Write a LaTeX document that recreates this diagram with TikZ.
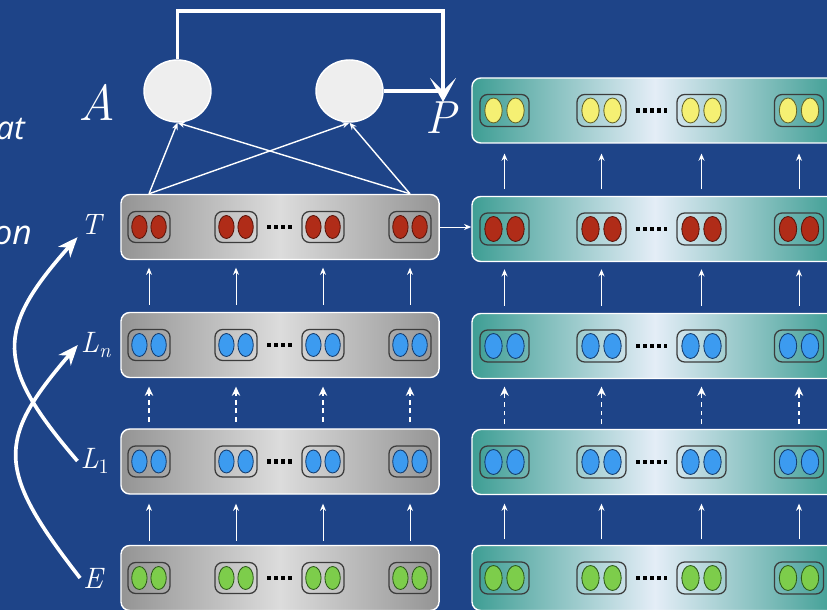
\documentclass[tikz,border=0pt]{standalone}
\usepackage{fontspec}
\usepackage{tikz}
\usepackage{xcolor}
\usetikzlibrary{arrows.meta,positioning,shapes.geometric}
\newfontfamily\slidefont{Open Sans}
\definecolor{slidebg}{RGB}{30,68,136}
\definecolor{boxedge}{RGB}{148,148,148}
\definecolor{boxmid}{RGB}{220,220,220}
\definecolor{tealedge}{RGB}{62,158,148}
\definecolor{tealmid}{RGB}{228,237,247}
\definecolor{podline}{RGB}{60,60,60}
\definecolor{cellfill}{RGB}{238,238,238}
\definecolor{unitred}{RGB}{176,44,24}
\definecolor{unitredline}{RGB}{90,20,10}
\definecolor{unitblue}{RGB}{60,155,240}
\definecolor{unitblueline}{RGB}{20,60,110}
\definecolor{unitgreen}{RGB}{125,205,75}
\definecolor{unitgreenline}{RGB}{45,90,25}
\definecolor{unityellow}{RGB}{245,240,115}
\definecolor{unityellowline}{RGB}{100,100,40}

\begin{document}
\begin{tikzpicture}[x=0.025cm,y=0.025cm,
  graybox/.style={draw=white,line width=1pt,rounded corners=0.22cm,minimum width=7.95cm,minimum height=1.625cm,left color=boxedge,right color=boxedge,middle color=boxmid},
  tealbox/.style={draw=white,line width=1pt,rounded corners=0.22cm,minimum width=9.15cm,minimum height=1.625cm,left color=tealedge,right color=tealedge,middle color=tealmid},
  pod/.style={draw=podline,line width=0.9pt,rounded corners=0.19cm,minimum width=1.05cm,minimum height=0.775cm,inner sep=0pt},
  bigpod/.style={pod,minimum width=1.225cm,minimum height=0.8cm},
  unit/.style={ellipse,line width=0.6pt,inner sep=0pt,minimum width=0.385cm,minimum height=0.575cm},
  bigunit/.style={unit,minimum width=0.435cm,minimum height=0.625cm},
  redunit/.style={fill=unitred,draw=unitredline},
  blueunit/.style={fill=unitblue,draw=unitblueline},
  greenunit/.style={fill=unitgreen,draw=unitgreenline},
  yellowunit/.style={fill=unityellow,draw=unityellowline},
  cell/.style={ellipse,draw=white,line width=1pt,fill=cellfill,minimum width=1.675cm,minimum height=1.55cm,inner sep=0pt},
  lab/.style={text=white,inner sep=2pt},
  uparrow/.style={-{Stealth[length=1.8mm,width=1.5mm]},draw=white,line width=0.7pt},
  dasharrow/.style={-{Stealth[length=2.3mm,width=2.1mm]},draw=white,line width=1.2pt,dash pattern=on 3.5pt off 2.8pt},
  feedback/.style={-{Stealth[length=6mm,width=6.5mm,inset=3.2mm]},draw=white,line width=2.8pt},
  bendarrow/.style={-{Stealth[length=5mm,width=4mm,inset=1.5mm]},draw=white,line width=2.6pt},
  dotrow/.style={draw=black,line width=3.5pt,dash pattern=on 2.8pt off 2.1pt,shorten <=7pt,shorten >=7pt}
]
\fill[slidebg] (0,0) rectangle (827,610);
\useasboundingbox (0,0) rectangle (827,610);

% left column
\foreach \row/\y/\col in {t/383/redunit,ln/265/blueunit,lone/148.5/blueunit,e/32/greenunit} {
  \node[graybox] (\row box) at (280,\y) {};
  \foreach \i/\x in {1/149,2/236,3/323,4/410} {
    \node[pod] (\row\i) at (\x,\y) {};
    \node[unit,\col] (\row\i a) at ([xshift=-0.24cm]\row\i.center) {};
    \node[unit,\col] (\row\i b) at ([xshift=0.24cm]\row\i.center) {};
  }
  \draw[dotrow] (\row2) -- (\row3);
}

% right column
\foreach \row/\y/\col in {pr/499.5/yellowunit,tr/381/redunit,lnr/264/blueunit,loner/148/blueunit,er/32/greenunit} {
  \node[tealbox] (\row box) at (655,\y) {};
  \foreach \i/\x in {1/504.5,2/601.5,3/701.5,4/799} {
    \node[bigpod] (\row\i) at (\x,\y) {};
    \node[bigunit,\col] (\row\i a) at ([xshift=-0.275cm]\row\i.center) {};
    \node[bigunit,\col] (\row\i b) at ([xshift=0.275cm]\row\i.center) {};
  }
  \draw[dotrow] (\row2) -- (\row3);
}

% arrows between layers
\foreach \i in {1,...,4} {
  \draw[uparrow,shorten <=3pt,shorten >=6.4pt] (e\i |- ebox.north) -- (lone\i |- lonebox.south);
  \draw[dasharrow,shorten <=4.3pt,shorten >=6pt] (lone\i |- lonebox.north) -- (ln\i |- lnbox.south);
  \draw[uparrow,shorten <=5pt,shorten >=5.3pt] (ln\i |- lnbox.north) -- (t\i |- tbox.south);
  \draw[uparrow,shorten <=3.9pt,shorten >=6pt] (er\i |- erbox.north) -- (loner\i |- lonerbox.south);
  \draw[dasharrow,shorten <=3.2pt,shorten >=5.3pt] (loner\i |- lonerbox.north) -- (lnr\i |- lnrbox.south);
  \draw[uparrow,shorten <=5pt,shorten >=5pt] (lnr\i |- lnrbox.north) -- (tr\i |- trbox.south);
  \draw[uparrow,shorten <=4.6pt,shorten >=7pt] (tr\i |- trbox.north) -- (pr\i |- prbox.south);
}
\draw[uparrow] (tbox.east) -- (tbox.east -| trbox.west);

% attention cells
\node[cell] (cellA) at (177.5,519) {};
\node[cell] (cellB) at (349.5,519) {};
\draw[uparrow,line width=1pt] (t1 |- tbox.north) -- (cellA.south);
\draw[uparrow,line width=1pt] (t1 |- tbox.north) -- (cellB.south);
\draw[uparrow,line width=1pt] (t4 |- tbox.north) -- (cellA.south);
\draw[uparrow,line width=1pt] (t4 |- tbox.north) -- (cellB.south);

\coordinate (loopTop) at (443,599);
\coordinate (pTip) at (443,508);
\draw[feedback] (cellA.north) |- (loopTop) -- (pTip);
\draw[draw=white,line width=2.8pt] (cellB.east) -- (cellB.east -| pTip);

% labels
\node[lab,font=\itshape\fontsize{36}{40}\selectfont] (labA) at (97,508) {A};
\node[lab,font=\itshape\fontsize{33}{36}\selectfont] (labP) at (441,492) {P};
\node[lab,font=\itshape\fontsize{21}{24}\selectfont] (labT) at (91,386) {T};
\node[lab,font=\itshape\fontsize{21}{24}\selectfont] (labLn) at (96,265) {L\textsubscript{n}};
\node[lab,font=\itshape\fontsize{21}{24}\selectfont] (labLone) at (95,149) {L\textsubscript{\textup{1}}};
\node[lab,font=\itshape\fontsize{21}{24}\selectfont] (labE) at (93,32) {E};
\node[lab,inner sep=0pt,font=\slidefont\itshape\fontsize{23}{28}\selectfont,anchor=base east] (wordAt) at (25,470) {at};
\node[lab,inner sep=0pt,font=\slidefont\itshape\fontsize{24}{30}\selectfont,anchor=base east] (wordOn) at (32,365) {on};

\draw[bendarrow] (labE.west) .. controls (-4,140) and (-4,170) .. (labLn.west);
\draw[bendarrow] (labLone.west) .. controls (-5,245) and (-5,280) .. (labT.south west);
\end{tikzpicture}
\end{document}
